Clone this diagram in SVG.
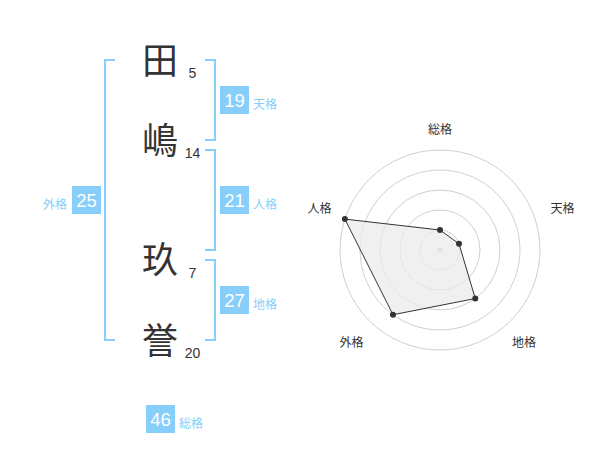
<svg xmlns="http://www.w3.org/2000/svg" width="600" height="470" viewBox="0 0 600 470">
<style>
.ch{font-family:"Noto Sans CJK JP","Noto Sans CJK SC",sans-serif;font-size:36px;fill:#333;text-anchor:middle}
.st{font-family:"Liberation Sans",Arial,sans-serif;font-size:14px;fill:#333;text-anchor:middle}
.br{fill:none;stroke:#87cefa;stroke-width:2}
.box{fill:#87cefa}
.bn{font-family:"Liberation Sans",Arial,sans-serif;font-size:18.5px;fill:#fff;text-anchor:middle}
.lb{font-family:"Noto Sans CJK JP","Noto Sans CJK SC",sans-serif;font-size:12px;fill:#87cefa}
.ring{fill:none;stroke:#cfcfcf;stroke-width:1}
.rl{font-family:"Noto Sans CJK JP","Noto Sans CJK SC",sans-serif;font-size:12px;fill:#333;text-anchor:middle}
.pt{fill:#333}
</style>
<rect width="600" height="470" fill="#fff"/>
<g id="connectors">
<path class="br" d="M115,60 H105 V340 H115"/>
<path class="br" d="M205,60 H215 V140 H205"/>
<path class="br" d="M205,150 H215 V250 H205"/>
<path class="br" d="M205,260 H215 V340 H205"/>
</g>
<g id="char-ta"><text class="ch" x="160" y="74">田</text><text class="st" x="192.5" y="78">5</text></g>
<g id="char-shima"><text class="ch" x="160" y="154">嶋</text><text class="st" x="192.5" y="158">14</text></g>
<g id="char-kyu"><text class="ch" x="160" y="273">玖</text><text class="st" x="192.5" y="278">7</text></g>
<g id="char-homare"><text class="ch" x="160" y="354">誉</text><text class="st" x="192.5" y="358">20</text></g>
<g id="tenkaku"><rect class="box" x="220" y="86" width="29" height="28"/><text class="bn" x="234.5" y="106.5">19</text><text class="lb" x="253" y="109">天格</text></g>
<g id="jinkaku"><rect class="box" x="220" y="186" width="29" height="28"/><text class="bn" x="234.5" y="206.5">21</text><text class="lb" x="253" y="209">人格</text></g>
<g id="chikaku"><rect class="box" x="220" y="286" width="29" height="28"/><text class="bn" x="234.5" y="306.5">27</text><text class="lb" x="253" y="309">地格</text></g>
<g id="gaikaku"><rect class="box" x="72" y="186" width="29" height="28"/><text class="bn" x="86.5" y="206.5">25</text><text class="lb" x="67" y="209" text-anchor="end">外格</text></g>
<g id="soukaku"><rect class="box" x="146" y="405" width="29" height="28"/><text class="bn" x="160.5" y="425.5">46</text><text class="lb" x="179" y="428">総格</text></g>
<g id="radar">
<circle class="ring" cx="440" cy="250" r="20"/>
<circle class="ring" cx="440" cy="250" r="40"/>
<circle class="ring" cx="440" cy="250" r="60"/>
<circle class="ring" cx="440" cy="250" r="80"/>
<circle class="ring" cx="440" cy="250" r="100"/>
<circle cx="440" cy="250" r="3" fill="#ccc"/>
<polygon points="440,230 459.02,243.82 475.27,298.54 392.98,314.72 344.89,219.1" fill="#ebebeb" fill-opacity="0.75" stroke="#333" stroke-width="1"/>
<circle class="pt" cx="440" cy="230" r="3"/>
<circle class="pt" cx="459.02" cy="243.82" r="3"/>
<circle class="pt" cx="475.27" cy="298.54" r="3"/>
<circle class="pt" cx="392.98" cy="314.72" r="3"/>
<circle class="pt" cx="344.89" cy="219.1" r="3"/>
<text class="rl" x="440" y="134">総格</text>
<text class="rl" x="562.5" y="212.5">天格</text>
<text class="rl" x="524" y="346.5">地格</text>
<text class="rl" x="351.5" y="346.5">外格</text>
<text class="rl" x="319.5" y="212.5">人格</text>
</g>
</svg>
